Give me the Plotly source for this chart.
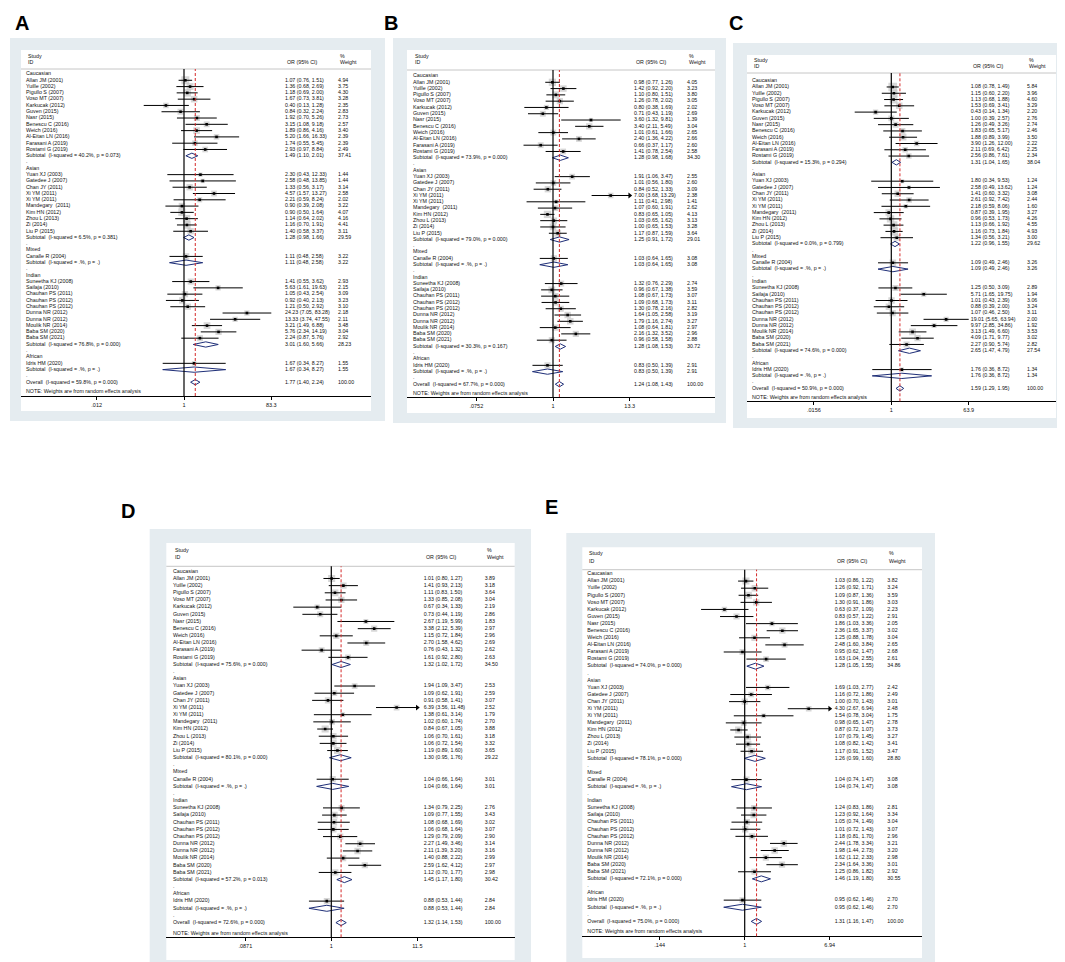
import math
import plotly.graph_objects as go

W, H = 1065, 962
FONT = "Liberation Sans, Arial, sans-serif"
TXT = 5.3

GROUPS = ["Caucasian", "Asian", "Mixed", "Indian", "African"]
GROUP_SIZES = [12, 10, 1, 10, 1]
STUDIES = ["Allan JM (2001)", "Yuille (2002)", "Pigullo S (2007)", "Voso MT (2007)",
           "Karkucak (2012)", "Guven (2015)", "Nasr (2015)", "Benescu C (2016)",
           "Weich (2016)", "Al-Eitan LN (2016)", "Farasani A (2019)", "Rostami G (2019)",
           "Yuan XJ (2003)", "Gatedee J (2007)", "Chan JY (2011)", "Xi YM (2011)",
           "Xi YM (2011)", "Mandegary\u00a0 (2011)", "Kim HN (2012)", "Zhou L (2013)",
           "Zi (2014)", "Liu P (2015)",
           "Canalle R (2004)",
           "Suneetha KJ (2008)", "Sailaja (2010)", "Chauhan PS (2011)", "Chauhan PS (2012)",
           "Chauhan PS (2012)", "Dunna NR (2012)", "Dunna NR (2012)", "Moulik NR (2014)",
           "Baba SM (2020)", "Baba SM (2021)",
           "Idris HM (2020)"]

# ---- panel A
A_or = [1.07, 1.36, 1.18, 1.67, 0.40, 0.84, 1.92, 3.15, 1.89, 5.20, 1.74, 2.93,
        2.30, 2.58, 1.33, 4.57, 2.21, 0.90, 0.90, 1.14, 1.16, 1.40,
        1.11,
        1.41, 5.63, 1.05, 0.92, 1.21, 24.23, 13.33, 3.21, 5.76, 2.24,
        1.67]
A_lo = [0.76, 0.68, 0.69, 0.73, 0.13, 0.32, 0.70, 1.08, 0.86, 1.66, 0.55, 0.97,
        0.43, 0.48, 0.56, 1.57, 0.59, 0.39, 0.50, 0.64, 0.70, 0.58,
        0.48,
        0.55, 1.61, 0.43, 0.40, 0.50, 7.05, 3.74, 1.49, 2.34, 0.87,
        0.34]
A_hi = [1.51, 2.69, 2.00, 3.81, 1.28, 2.24, 5.26, 9.18, 4.16, 16.33, 5.45, 8.84,
        12.33, 13.85, 3.17, 13.27, 8.24, 2.08, 1.64, 2.02, 1.91, 3.37,
        2.58,
        3.62, 19.63, 2.54, 2.13, 2.92, 83.28, 47.55, 6.88, 14.19, 5.76,
        8.27]
A_wt = [4.94, 3.75, 4.30, 3.28, 2.35, 2.83, 2.73, 2.57, 3.40, 2.39, 2.39, 2.49,
        1.44, 1.44, 3.14, 2.58, 2.02, 3.22, 4.07, 4.16, 4.41, 3.11,
        3.22,
        2.93, 2.15, 3.09, 3.23, 3.10, 2.18, 2.11, 3.48, 3.04, 2.92,
        1.55]
A_sub_i2 = [40.2, 6.5, None, 76.8, None]
A_sub_p = [0.073, 0.381, None, 0.000, None]
A_sub_or = [1.49, 1.28, 1.11, 3.01, 1.67]
A_sub_lo = [1.10, 0.98, 0.48, 1.60, 0.34]
A_sub_hi = [2.01, 1.66, 2.58, 5.66, 8.27]
A_sub_wt = [37.41, 29.59, 3.22, 28.23, 1.55]
A_overall = [59.8, 0.000, 1.77, 1.40, 2.24, 100.00]

# ---- panel B
B_or = [0.98, 1.42, 1.10, 1.26, 0.80, 0.71, 3.60, 3.40, 1.01, 2.40, 0.66, 1.41,
        1.91, 1.01, 0.84, 7.00, 1.11, 1.07, 0.83, 1.03, 1.00, 1.17,
        1.03,
        1.32, 0.96, 1.08, 1.09, 1.30, 1.64, 1.79, 1.08, 2.16, 0.96,
        0.83]
B_lo = [0.77, 0.92, 0.80, 0.78, 0.38, 0.43, 1.32, 2.11, 0.61, 1.36, 0.37, 0.78,
        1.06, 0.56, 0.52, 3.68, 0.41, 0.60, 0.65, 0.65, 0.65, 0.87,
        0.64,
        0.76, 0.67, 0.67, 0.68, 0.78, 1.05, 1.16, 0.64, 1.32, 0.58,
        0.50]
B_hi = [1.26, 2.20, 1.51, 2.02, 1.69, 1.19, 9.81, 5.49, 1.66, 4.22, 1.17, 2.54,
        3.47, 1.80, 1.33, 13.29, 2.98, 1.91, 1.05, 1.62, 1.53, 1.59,
        1.65,
        2.29, 1.38, 1.73, 1.73, 2.16, 2.58, 2.74, 1.81, 3.52, 1.58,
        1.39]
B_wt = [4.05, 3.23, 3.80, 3.05, 2.02, 2.69, 1.39, 3.04, 2.65, 2.66, 2.60, 2.58,
        2.55, 2.60, 3.09, 2.38, 1.41, 2.62, 4.13, 3.13, 3.28, 3.64,
        3.08,
        2.74, 3.59, 3.07, 3.11, 2.82, 3.19, 3.27, 2.97, 2.96, 2.88,
        2.91]
B_sub_i2 = [73.9, 79.0, None, 30.3, None]
B_sub_p = [0.000, 0.000, None, 0.167, None]
B_sub_or = [1.28, 1.25, 1.03, 1.28, 0.83]
B_sub_lo = [0.98, 0.91, 0.64, 1.08, 0.50]
B_sub_hi = [1.68, 1.72, 1.65, 1.53, 1.39]
B_sub_wt = [34.30, 29.01, 3.08, 30.72, 2.91]
B_overall = [67.7, 0.000, 1.24, 1.08, 1.43, 100.00]

# ---- panel C
C_or = [1.08, 1.15, 1.13, 1.53, 0.43, 1.00, 1.26, 1.83, 1.88, 3.90, 2.11, 2.56,
        1.80, 2.58, 1.41, 2.61, 2.18, 0.87, 0.96, 1.13, 1.16, 1.34,
        1.09,
        1.25, 5.71, 1.01, 0.88, 1.07, 19.01, 9.97, 3.13, 4.09, 2.27,
        1.76]
C_lo = [0.78, 0.60, 0.68, 0.69, 0.14, 0.39, 0.49, 0.65, 0.89, 1.26, 0.69, 0.86,
        0.34, 0.49, 0.60, 0.92, 0.59, 0.39, 0.53, 0.66, 0.73, 0.56,
        0.49,
        0.50, 1.65, 0.43, 0.39, 0.46, 5.65, 2.85, 1.49, 1.71, 0.90,
        0.36]
C_hi = [1.49, 2.20, 1.88, 3.41, 1.34, 2.57, 3.26, 5.17, 3.99, 12.00, 6.42, 7.61,
        9.53, 13.62, 3.32, 7.42, 8.06, 1.95, 1.73, 1.92, 1.84, 3.21,
        2.46,
        3.09, 19.75, 2.39, 2.00, 2.50, 63.94, 34.86, 6.60, 9.77, 5.74,
        8.72]
C_wt = [5.84, 3.96, 4.60, 3.29, 2.20, 2.76, 2.74, 2.46, 3.50, 2.22, 2.25, 2.34,
        1.24, 1.24, 3.08, 2.44, 1.60, 3.27, 4.26, 4.55, 4.93, 3.00,
        3.26,
        2.89, 1.94, 3.06, 3.24, 3.11, 2.00, 1.92, 3.53, 3.02, 2.82,
        1.34]
C_sub_i2 = [15.3, 0.0, None, 74.6, None]
C_sub_p = [0.294, 0.799, None, 0.000, None]
C_sub_or = [1.31, 1.22, 1.09, 2.65, 1.76]
C_sub_lo = [1.04, 0.96, 0.49, 1.47, 0.36]
C_sub_hi = [1.65, 1.55, 2.46, 4.79, 8.72]
C_sub_wt = [38.04, 29.62, 3.26, 27.54, 1.34]
C_overall = [50.9, 0.000, 1.59, 1.29, 1.95, 100.00]

# ---- panel D
D_or = [1.01, 1.41, 1.11, 1.33, 0.67, 0.73, 2.67, 3.38, 1.15, 2.70, 0.76, 1.61,
        1.94, 1.09, 0.91, 6.39, 1.38, 1.02, 0.84, 1.06, 1.06, 1.19,
        1.04,
        1.34, 1.09, 1.08, 1.06, 1.29, 2.27, 2.11, 1.40, 2.59, 1.12,
        0.88]
D_lo = [0.80, 0.93, 0.83, 0.85, 0.34, 0.44, 1.19, 2.12, 0.72, 1.58, 0.43, 0.92,
        1.09, 0.62, 0.58, 3.56, 0.61, 0.60, 0.67, 0.70, 0.72, 0.89,
        0.66,
        0.79, 0.77, 0.68, 0.68, 0.79, 1.49, 1.39, 0.88, 1.62, 0.70,
        0.53]
D_hi = [1.27, 2.13, 1.50, 2.08, 1.33, 1.19, 5.99, 5.39, 1.84, 4.62, 1.32, 2.80,
        3.47, 1.91, 1.41, 11.48, 3.14, 1.74, 1.05, 1.61, 1.54, 1.60,
        1.64,
        2.25, 1.55, 1.69, 1.64, 2.09, 3.46, 3.20, 2.22, 4.12, 1.77,
        1.44]
D_wt = [3.89, 3.18, 3.64, 3.04, 2.19, 2.86, 1.83, 2.97, 2.96, 2.69, 2.62, 2.63,
        2.53, 2.59, 3.07, 2.52, 1.79, 2.70, 3.88, 3.18, 3.32, 3.65,
        3.01,
        2.76, 3.43, 3.02, 3.07, 2.90, 3.14, 3.16, 2.99, 2.97, 2.98,
        2.84]
D_sub_i2 = [75.6, 80.1, None, 57.2, None]
D_sub_p = [0.000, 0.000, None, 0.013, None]
D_sub_or = [1.32, 1.30, 1.04, 1.45, 0.88]
D_sub_lo = [1.02, 0.95, 0.66, 1.17, 0.53]
D_sub_hi = [1.72, 1.76, 1.64, 1.80, 1.44]
D_sub_wt = [34.50, 29.22, 3.01, 30.42, 2.84]
D_overall = [72.6, 0.000, 1.32, 1.14, 1.53, 100.00]

# ---- panel E
E_or = [1.03, 1.26, 1.09, 1.30, 0.63, 0.83, 1.86, 2.36, 1.25, 2.48, 0.95, 1.63,
        1.69, 1.16, 1.00, 4.30, 1.54, 0.98, 0.87, 1.07, 1.08, 1.17,
        1.04,
        1.24, 1.23, 1.05, 1.01, 1.18, 2.44, 1.98, 1.62, 2.34, 1.25,
        0.95]
E_lo = [0.86, 0.92, 0.87, 0.91, 0.37, 0.57, 1.03, 1.65, 0.88, 1.60, 0.62, 1.04,
        1.03, 0.72, 0.70, 2.67, 0.78, 0.65, 0.72, 0.79, 0.82, 0.91,
        0.74,
        0.83, 0.92, 0.74, 0.72, 0.81, 1.78, 1.44, 1.12, 1.64, 0.86,
        0.62]
E_hi = [1.22, 1.71, 1.36, 1.86, 1.09, 1.22, 3.36, 3.37, 1.78, 3.84, 1.47, 2.55,
        2.77, 1.86, 1.43, 6.94, 3.04, 1.47, 1.07, 1.45, 1.42, 1.52,
        1.47,
        1.86, 1.64, 1.49, 1.43, 1.70, 3.34, 2.73, 2.33, 3.36, 1.82,
        1.46]
E_wt = [3.82, 3.24, 3.59, 3.03, 2.23, 2.91, 2.05, 3.02, 3.04, 2.65, 2.68, 2.61,
        2.42, 2.49, 3.01, 2.48, 1.75, 2.78, 3.73, 3.27, 3.41, 3.47,
        3.08,
        2.81, 3.34, 3.04, 3.07, 2.96, 3.21, 3.20, 2.98, 3.01, 2.92,
        2.70]
E_sub_i2 = [74.0, 78.1, None, 72.1, None]
E_sub_p = [0.000, 0.000, None, 0.000, None]
E_sub_or = [1.28, 1.26, 1.04, 1.46, 0.95]
E_sub_lo = [1.05, 0.99, 0.74, 1.19, 0.62]
E_sub_hi = [1.55, 1.60, 1.47, 1.80, 1.46]
E_sub_wt = [34.86, 28.80, 3.08, 30.55, 2.70]
E_overall = [75.0, 0.000, 1.31, 1.16, 1.47, 100.00]

TICK_HI = {"A": 83.3, "B": 13.3, "C": 63.9, "D": 11.5, "E": 6.94}
TICK_TEXT = {"A": [".012", "1", "83.3"], "B": [".0752", "1", "13.3"],
             "C": [".0156", "1", "63.9"], "D": [".0871", "1", "11.5"],
             "E": [".144", "1", "6.94"]}
ARROW_PANELS = ["B", "D", "E"]

DATA = {
    "A": (A_or, A_lo, A_hi, A_wt, A_sub_i2, A_sub_p, A_sub_or, A_sub_lo, A_sub_hi, A_sub_wt, A_overall),
    "B": (B_or, B_lo, B_hi, B_wt, B_sub_i2, B_sub_p, B_sub_or, B_sub_lo, B_sub_hi, B_sub_wt, B_overall),
    "C": (C_or, C_lo, C_hi, C_wt, C_sub_i2, C_sub_p, C_sub_or, C_sub_lo, C_sub_hi, C_sub_wt, C_overall),
    "D": (D_or, D_lo, D_hi, D_wt, D_sub_i2, D_sub_p, D_sub_or, D_sub_lo, D_sub_hi, D_sub_wt, D_overall),
    "E": (E_or, E_lo, E_hi, E_wt, E_sub_i2, E_sub_p, E_sub_or, E_sub_lo, E_sub_hi, E_sub_wt, E_overall),
}

# panel geometry in page pixels
GEOM = {
    "A": dict(gray=(2, 30, 377, 413), white=(13, 42, 363, 403), head=61, row0=66, pitch=6.29,
              axis=388, null=176, hix=263.3, sx=18, ox=277, wx=330, sy=48, iy=54, lab=(14, 15)),
    "B": dict(gray=(385, 30, 718, 415), white=(399, 42, 707, 405), head=62, row0=68, pitch=6.29,
              axis=389, null=545, hix=621.7, sx=405, ox=626, wx=679, sy=47.5, iy=54, lab=(383, 15)),
    "C": dict(gray=(725, 35, 1060, 420), white=(739, 47, 1048, 410), head=65, row0=72.7, pitch=6.28,
              axis=393.3, null=883.3, hix=960.7, sx=744, ox=962.7, wx=1019, sy=51.7, iy=57.7, lab=(728, 15)),
    "D": dict(gray=(141.7, 521, 523, 960), white=(158.3, 535, 506.7, 952), head=558.3, row0=563.3, pitch=7.17,
              axis=929.3, null=323.3, hix=409.3, sx=165, ox=415.7, wx=476.7, sy=542.3, iy=549.3, lab=(120, 503)),
    "E": dict(gray=(558.3, 525, 927, 958), white=(574.3, 539.3, 914, 950), head=561.7, row0=566, pitch=7.09,
              axis=928.3, null=736.7, hix=821.7, sx=579.3, ox=826.7, wx=879.3, sy=545, iy=553.3, lab=(543, 499)),
}

BG = "#e5ecf0"
NAVY = "#1f2f78"


def px(x):
    return x / W


def py(y):
    return 1 - y / H


def ci_text(o, l, h):
    return f"{o:.2f} ({l:.2f}, {h:.2f})"


def het_text(i2, p):
    if i2 is None:
        return "(I-squared = .%, p = .)"
    return f"(I-squared = {i2:.1f}%, p = {p:.3f})"


fig = go.Figure()
shapes, annos = [], []
layout_axes = {}

for k, key in enumerate("ABCDE", start=1):
    g = GEOM[key]
    (s_or, s_lo, s_hi, s_wt, sub_i2, sub_p, sub_or, sub_lo, sub_hi, sub_wt, ovr) = DATA[key]
    xa = "x" if k == 1 else f"x{k}"
    ya = "y" if k == 1 else f"y{k}"
    ppd = (g["hix"] - g["null"]) / math.log10(TICK_HI[key])

    def xval(p, g=g, ppd=ppd):
        return 10 ** ((p - g["null"]) / ppd)

    # ---- build rows
    lab_r, lab_t = [], []
    num_r, num_t, wt_t = [], [], []
    st_r = []
    dia_r, dia_o, dia_l, dia_h = [], [], [], []
    r, s = 0, 0
    for gi, (gname, n) in enumerate(zip(GROUPS, GROUP_SIZES)):
        lab_r.append(r); lab_t.append(gname)
        for j in range(n):
            r += 1
            i = s + j
            st_r.append(r)
            lab_r.append(r); lab_t.append(STUDIES[i])
            num_r.append(r); num_t.append(ci_text(s_or[i], s_lo[i], s_hi[i])); wt_t.append(f"{s_wt[i]:.2f}")
        s += n
        r += 1
        lab_r.append(r); lab_t.append("Subtotal\u00a0 " + het_text(sub_i2[gi], sub_p[gi]))
        num_r.append(r); num_t.append(ci_text(sub_or[gi], sub_lo[gi], sub_hi[gi])); wt_t.append(f"{sub_wt[gi]:.2f}")
        dia_r.append(r); dia_o.append(sub_or[gi]); dia_l.append(sub_lo[gi]); dia_h.append(sub_hi[gi])
        r += 1
        lab_r.append(r); lab_t.append(".")
        r += 1
    i2, p, o, l, h, w = ovr
    lab_r.append(r); lab_t.append("Overall\u00a0 " + het_text(i2, p))
    num_r.append(r); num_t.append(ci_text(o, l, h)); wt_t.append(f"{w:.2f}")
    dia_r.append(r); dia_o.append(o); dia_l.append(l); dia_h.append(h)
    lab_r.append(r + 1.5); lab_t.append("NOTE: Weights are from random effects analysis")

    tf = dict(family=FONT, size=TXT, color="#111111")
    # text columns
    fig.add_trace(go.Scatter(x=[xval(g["sx"])] * len(lab_r), y=lab_r, text=lab_t, mode="text",
                             textposition="middle right", textfont=tf, xaxis=xa, yaxis=ya,
                             cliponaxis=False, hoverinfo="skip"))
    fig.add_trace(go.Scatter(x=[xval(g["ox"])] * len(num_r), y=num_r, text=num_t, mode="text",
                             textposition="middle right", textfont=tf, xaxis=xa, yaxis=ya,
                             cliponaxis=False, hoverinfo="skip"))
    fig.add_trace(go.Scatter(x=[xval(g["wx"])] * len(num_r), y=num_r, text=wt_t, mode="text",
                             textposition="middle right", textfont=tf, xaxis=xa, yaxis=ya,
                             cliponaxis=False, hoverinfo="skip"))

    # weight boxes
    fig.add_trace(go.Scatter(x=s_or, y=st_r, mode="markers", xaxis=xa, yaxis=ya, hoverinfo="skip",
                             marker=dict(symbol="square", size=[3.6 * math.sqrt(v) for v in s_wt],
                                         color="#c6c6c6", line=dict(width=0))))
    # confidence intervals
    cx, cy = [], []
    for rr, lo, hi in zip(st_r, s_lo, s_hi):
        cx += [lo, hi, None]
        cy += [rr, rr, None]
    fig.add_trace(go.Scatter(x=cx, y=cy, mode="lines", xaxis=xa, yaxis=ya, hoverinfo="skip",
                             line=dict(color="black", width=1)))
    # point estimates
    fig.add_trace(go.Scatter(x=s_or, y=st_r, mode="markers", xaxis=xa, yaxis=ya, hoverinfo="skip",
                             marker=dict(symbol="square", size=2.6, color="black", line=dict(width=0))))
    # arrow for truncated interval
    if key in ARROW_PANELS:
        j = s_hi.index(max(s_hi))
        fig.add_trace(go.Scatter(x=[s_hi[j]], y=[st_r[j]], mode="markers", xaxis=xa, yaxis=ya,
                                 hoverinfo="skip",
                                 marker=dict(symbol="triangle-right", size=5, color="black",
                                             line=dict(width=0))))
    # diamonds
    dx, dy = [], []
    for rr, oo, lo, hi in zip(dia_r, dia_o, dia_l, dia_h):
        dx += [lo, oo, hi, oo, lo, None]
        dy += [rr, rr - 0.42, rr, rr + 0.42, rr, None]
    fig.add_trace(go.Scatter(x=dx, y=dy, mode="lines", xaxis=xa, yaxis=ya, hoverinfo="skip",
                             line=dict(color=NAVY, width=1)))

    # axes
    wx0, wy0, wx1, wy1 = g["white"]
    x_rng = [(wx0 - g["null"]) / ppd, (wx1 - g["null"]) / ppd]
    y_rng = [(g["axis"] - g["row0"]) / g["pitch"], (g["head"] - g["row0"]) / g["pitch"]]
    th = TICK_HI[key]
    layout_axes["xaxis" if k == 1 else f"xaxis{k}"] = dict(
        type="log", range=x_rng, domain=[px(wx0), px(wx1)], anchor=ya,
        showline=True, linecolor="black", linewidth=1, ticks="outside", ticklen=3,
        tickwidth=1, tickcolor="black", tickvals=[1 / th, 1, th], ticktext=TICK_TEXT[key],
        tickfont=dict(family=FONT, size=5.5, color="#111111"), showgrid=False,
        zeroline=False, fixedrange=True)
    layout_axes["yaxis" if k == 1 else f"yaxis{k}"] = dict(
        range=y_rng, domain=[py(g["axis"]), py(g["head"])], anchor=xa, visible=False,
        showgrid=False, zeroline=False, fixedrange=True)

    # background boxes
    gx0, gy0, gx1, gy1 = g["gray"]
    shapes.append(dict(type="rect", xref="paper", yref="paper", x0=px(gx0), x1=px(gx1),
                       y0=py(gy1), y1=py(gy0), fillcolor=BG, line=dict(width=0), layer="below"))
    shapes.append(dict(type="rect", xref="paper", yref="paper", x0=px(wx0), x1=px(wx1),
                       y0=py(wy1), y1=py(wy0), fillcolor="white", line=dict(width=0), layer="below"))
    shapes.append(dict(type="line", xref="paper", yref="paper", x0=px(wx0), x1=px(wx1),
                       y0=py(g["head"]), y1=py(g["head"]), line=dict(color="#b8b8b8", width=0.8)))
    # null line and overall estimate line
    shapes.append(dict(type="line", xref=xa, yref=f"{ya} domain", x0=1, x1=1, y0=0, y1=1,
                       line=dict(color="black", width=1.2)))
    shapes.append(dict(type="line", xref=xa, yref=f"{ya} domain", x0=ovr[2], x1=ovr[2], y0=0, y1=1,
                       line=dict(color="#d42a2a", width=1, dash="3px,2px")))

    # headers
    hf = dict(family=FONT, size=TXT, color="#111111")
    for tx, ty, t in [(g["sx"], g["sy"], "Study"), (g["sx"], g["iy"], "ID"),
                      (g["ox"], g["iy"], "OR (95% CI)"), (g["wx"], g["sy"], "%"),
                      (g["wx"], g["iy"], "Weight")]:
        annos.append(dict(x=px(tx), y=py(ty), xref="paper", yref="paper", text=t, showarrow=False,
                          xanchor="left", yanchor="middle", font=hf))
    lx, ly = g["lab"]
    annos.append(dict(x=px(lx), y=py(ly), xref="paper", yref="paper", text=f"<b>{key}</b>",
                      showarrow=False, xanchor="center", yanchor="middle",
                      font=dict(family=FONT, size=20, color="black")))

fig.update_layout(
    width=W, height=H, autosize=False, margin=dict(l=0, r=0, t=0, b=0),
    paper_bgcolor="white", plot_bgcolor="rgba(0,0,0,0)", showlegend=False,
    shapes=shapes, annotations=annos, **layout_axes)

fig.write_html("out.html")
